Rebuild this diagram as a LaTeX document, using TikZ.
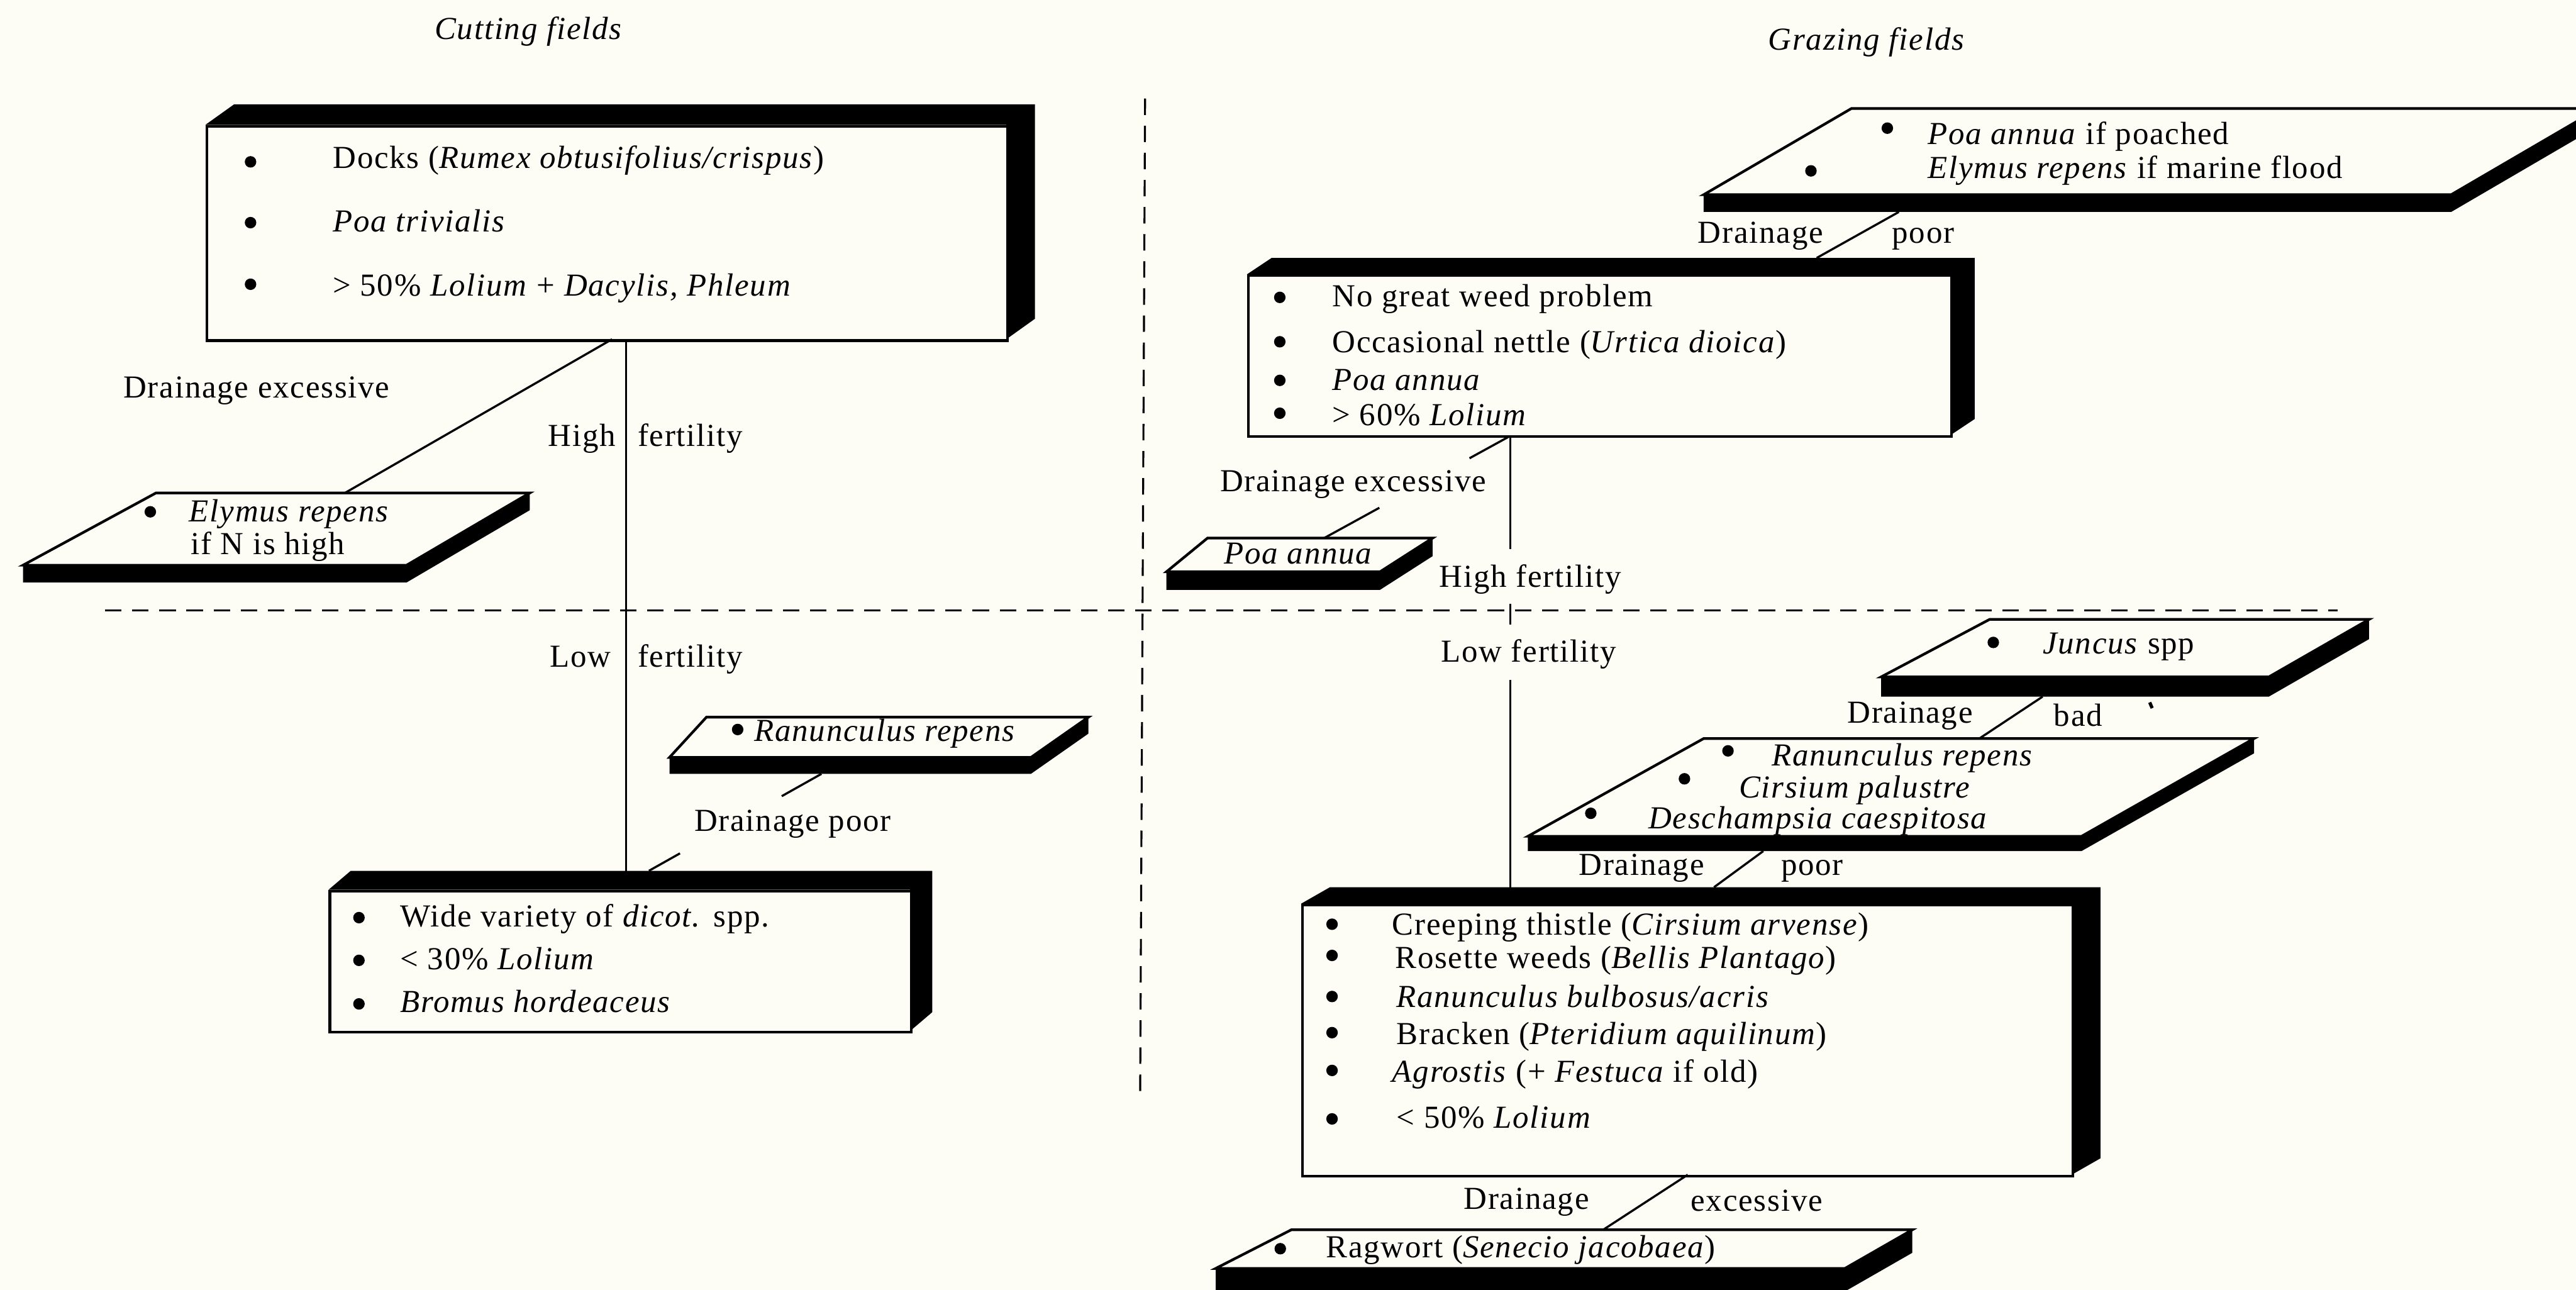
\documentclass[tikz,border=0pt]{standalone}
\usepackage{fontspec}
\setmainfont{Liberation Serif}[LetterSpace=3.5]
\usetikzlibrary{calc}
\definecolor{paper}{RGB}{253,253,246}
\newcommand\solidbox[7]{%
  \fill (#2,#3) -- (#2+#6,#3-#7) -- (#4+#6,#3-#7) -- (#4+#6,#5-#7) -- (#4,#5) -- (#4,#3) -- cycle;
  \node[face, anchor=north west, inner sep=0pt, minimum width={#4pt-#2pt}, minimum height={#5pt-#3pt}] (#1) at (#2,#3) {};}
\newcommand\slab[6]{%
  \coordinate (#1-tl) at (#2); \coordinate (#1-tr) at (#3);
  \coordinate (#1-br) at (#4); \coordinate (#1-bl) at (#5);
  \fill (#1-bl) -- (#1-br) -- (#1-tr) -- ($(#1-tr)+(0,#6)$) -- ($(#1-br)+(0,#6)$) -- ($(#1-bl)+(0,#6)$) -- cycle;
  \draw[face] (#1-tl) -- (#1-tr) -- (#1-br) -- (#1-bl) -- cycle;}
\begin{document}
\begin{tikzpicture}[x=1pt,y=-1pt,
  txt/.style={inner sep=0pt, font=\fontsize{19.5}{22}\selectfont},
  lbl/.style={txt, anchor=base west},
  lble/.style={txt, anchor=base east},
  ttl/.style={txt, anchor=base, font=\fontsize{19.5}{22}\selectfont\itshape},
  dot/.style={circle, fill=black, inner sep=0pt, minimum size=7pt},
  face/.style={draw, line width=1.6pt, fill=paper, line join=miter},
  conn/.style={line width=1.3pt},
  divider/.style={line width=1.2pt, dash pattern=on 10pt off 6.5pt}]
\useasboundingbox (0,0) rectangle (1568,785);
\fill[paper] (0,0) rectangle (1568,785);

% dividers
\draw[divider] (697,60) -- (694,666);
\draw[divider] (64,371.5) -- (1423,371.5);

% titles
\node[ttl] (t1) at (321.5,24) {Cutting fields};
\node[ttl] (t2) at (1136,30.5) {Grazing fields};

% ---------- Cutting fields ----------
\solidbox{A}{125}{76}{612.5}{206.5}{17.5}{12.5}
\node[dot] (a1) at (152.5,98.5) {};
\node[dot] (a2) at (152.5,135.5) {};
\node[dot] (a3) at (152.5,173) {};
\node[lbl] (a1t) at (202.5,102.5) {Docks (\textit{Rumex obtusifolius/crispus})};
\node[lbl] (a2t) at (202.5,141) {\textit{Poa trivialis}};
\node[lbl] (a3t) at (202.5,180) {> 50\% \textit{Lolium} + \textit{Dacylis, Phleum}};

\slab{E}{95,300}{322.5,300}{247.5,344}{14,344}{10.5}
\node[dot] (e1) at (91.5,311.5) {};
\node[lbl] (e1t) at (115,317.5) {\textit{Elymus repens}};
\node[lbl] (e2t) at (116,337.5) {if N is high};

\solidbox{C}{200}{541.5}{554}{627.5}{13.5}{11.5}
\node[dot] (c1) at (218.5,558.5) {};
\node[dot] (c2) at (218.5,584.5) {};
\node[dot] (c3) at (218.5,611) {};
\node[lbl] (c1t) at (243.5,564) {Wide variety of \textit{dicot.} spp.};
\node[lbl] (c2t) at (243.5,590) {< 30\% \textit{Lolium}};
\node[lbl] (c3t) at (243.5,616) {\textit{Bromus hordeaceus}};

\slab{R}{430,436.5}{662.5,436.5}{627.5,461}{407.5,461}{10}
\node[dot] (r1) at (449,444) {};
\node[lbl] (r1t) at (459,451) {\textit{Ranunculus repens}};

% connectors (cutting)
\coordinate (A-s1) at (372.5,206.5);
\coordinate (E-n) at (210,300);
\draw[conn] (A-s1) -- (E-n);
\node[lbl] (de1) at (75,242) {Drainage excessive};
\coordinate (A-s2) at (381,206.5);
\coordinate (C-n) at (381,530);
\draw[conn] (A-s2) -- (C-n);
\node[lble] (hi1) at (375,271.5) {High};
\node[lbl] (hf1) at (388,271.5) {fertility};
\node[lble] (lo1) at (372,406) {Low};
\node[lbl] (lf1) at (388,406) {fertility};
\coordinate (C-n2) at (395,530);
\coordinate (R-s) at (500,471);
\draw[conn] (C-n2) -- ($(C-n2)!0.18!(R-s)$);
\draw[conn] ($(C-n2)!0.77!(R-s)$) -- (R-s);
\node[lbl] (dp1) at (422.5,506) {Drainage poor};

% ---------- Grazing fields ----------
\slab{T}{1127,66}{1582,66}{1492,118.5}{1037,118.5}{10.5}
\node[dot] (p1) at (1148.8,78) {};
\node[dot] (p2) at (1102.3,104) {};
\node[lbl] (p1t) at (1173.3,88) {\textit{Poa annua} if poached};
\node[lbl] (p2t) at (1173.3,108.5) {\textit{Elymus repens} if marine flood};

\solidbox{B}{759}{167}{1187}{265}{15}{10}
\node[dot] (b1) at (779,181) {};
\node[dot] (b2) at (779,208) {};
\node[dot] (b3) at (779,231.5) {};
\node[dot] (b4) at (779,251.5) {};
\node[lbl] (b1t) at (810.8,186.5) {No great weed problem};
\node[lbl] (b2t) at (810.8,214.5) {Occasional nettle (\textit{Urtica dioica})};
\node[lbl] (b3t) at (810.8,237.5) {\textit{Poa annua}};
\node[lbl] (b4t) at (810.8,259) {> 60\% \textit{Lolium}};

\slab{P}{735,327.5}{872,327.5}{840,348}{710,348}{11}
\node[lbl] (pat) at (745,343) {\textit{Poa annua}};

\slab{J}{1211,377}{1442,377}{1381,412}{1145,412}{12}
\node[dot] (j1) at (1213.3,391) {};
\node[lbl] (j1t) at (1243.3,398) {\textit{Juncus} spp};

\slab{S}{1037,449.5}{1372,449.5}{1267,509}{930,509}{9}
\node[dot] (s1) at (1051.8,457) {};
\node[dot] (s2) at (1025.3,474) {};
\node[dot] (s3) at (968.3,495) {};
\node[lbl] (s1t) at (1078.3,466) {\textit{Ranunculus repens}};
\node[lbl] (s2t) at (1058.3,485.5) {\textit{Cirsium palustre}};
\node[lbl] (s3t) at (1003.3,504.5) {\textit{Deschampsia caespitosa}};

\solidbox{D}{792}{550}{1261}{715}{17.5}{10}
\node[dot] (d1) at (810.8,562.5) {};
\node[dot] (d2) at (810.8,581.5) {};
\node[dot] (d3) at (810.8,606.5) {};
\node[dot] (d4) at (810.8,628.5) {};
\node[dot] (d5) at (810.8,651.5) {};
\node[dot] (d6) at (810.8,681) {};
\node[lbl] (d1t) at (847.3,569) {Creeping thistle (\textit{Cirsium arvense})};
\node[lbl] (d2t) at (849,589.5) {Rosette weeds (\textit{Bellis Plantago})};
\node[lbl] (d3t) at (849.8,613) {\textit{Ranunculus bulbosus/acris}};
\node[lbl] (d4t) at (850,635.5) {Bracken (\textit{Pteridium aquilinum})};
\node[lbl] (d5t) at (847.3,658.5) {\textit{Agrostis} (+ \textit{Festuca} if old)};
\node[lbl] (d6t) at (850,686.5) {< 50\% \textit{Lolium}};

\slab{G}{786,748.5}{1164,748.5}{1123,772}{740,772}{14}
\node[dot] (g1) at (779.3,760) {};
\node[lbl] (g1t) at (807,765.5) {Ragwort (\textit{Senecio jacobaea})};

% connectors (grazing)
\coordinate (T-s) at (1155.8,129);
\coordinate (B-n) at (1105.8,157);
\draw[conn] (T-s) -- (B-n);
\node[lble] (dr2) at (1110,148) {Drainage};
\node[lbl] (po2) at (1151.5,148) {poor};

\coordinate (B-s1) at (918,266);
\coordinate (P-n) at (806,327.5);
\draw[conn] (B-s1) -- ($(B-s1)!0.21!(P-n)$);
\draw[conn] ($(B-s1)!0.70!(P-n)$) -- (P-n);
\node[lbl] (de2) at (742.5,299) {Drainage excessive};

\coordinate (B-s2) at (919.3,265);
\coordinate (B-v1) at (919.3,334);
\draw[conn] (B-s2) -- (B-v1);
\coordinate (tk1) at (919.3,367.5);
\coordinate (tk2) at (919.3,380);
\draw[conn] (tk1) -- (tk2);
\coordinate (D-v1) at (919.3,414);
\coordinate (D-n) at (919.3,540);
\draw[conn] (D-v1) -- (D-n);
\node[lbl] (hf2) at (876,357.5) {High fertility};
\node[lbl] (lf2) at (877,403) {Low fertility};

\coordinate (J-s) at (1243.3,424);
\coordinate (S-n) at (1204.8,449.5);
\draw[conn] (J-s) -- (S-n);
\node[lble] (dr3) at (1201,440) {Drainage};
\node[lbl] (ba3) at (1250,442) {bad};
\draw[line width=2pt] (1308.5,427.5) -- (1310,431);

\coordinate (S-s) at (1073.3,518);
\coordinate (D-n2) at (1043.3,540);
\draw[conn] (S-s) -- (D-n2);
\node[lble] (dr4) at (1037.5,532.5) {Drainage};
\node[lbl] (po4) at (1084,532.5) {poor};

\coordinate (D-s) at (1027.3,715);
\coordinate (G-n) at (975.8,748.5);
\draw[conn] (D-s) -- (G-n);
\node[lble] (dr5) at (967.5,736) {Drainage};
\node[lbl] (ex5) at (1029,737) {excessive};
\end{tikzpicture}
\end{document}
